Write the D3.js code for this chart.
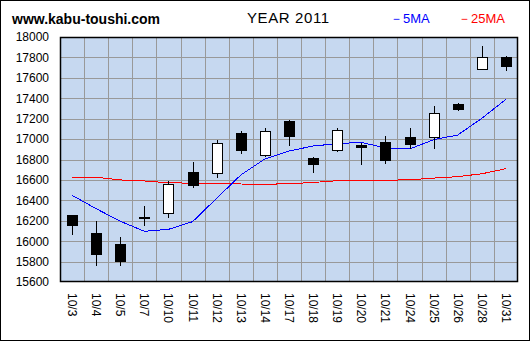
<!DOCTYPE html>
<html>
<head>
<meta charset="utf-8">
<script src="https://cdn.jsdelivr.net/npm/d3@7"></script>
<style>
  html, body { margin: 0; padding: 0; background: #fff; }
  svg { display: block; font-family: Arial, "Liberation Sans", sans-serif; }
</style>
</head>
<body>
<svg id="chart" width="530" height="341"></svg>
<script>
// Daily candles, October 2011
const dates = ["10/3","10/4","10/5","10/7","10/10","10/11","10/12","10/13","10/14","10/17",
               "10/18","10/19","10/20","10/21","10/24","10/25","10/26","10/28","10/31"];
const open  = [16256,16080,15969,16236,16273,16668,16665,17050,16841,17177,
               16812,16886,16935,16971,17011,17017,17334,17684,17801];
const high  = [16256,16198,16041,16345,16592,16778,16988,17076,17106,17187,
               16822,17109,16965,17030,17109,17324,17351,17909,17814];
const low   = [16063,15754,15760,16151,16230,16518,16616,16857,16824,16935,
               16671,16876,16749,16756,16903,16906,17278,17684,17670];
const close = [16151,15867,15799,16232,16557,16543,16959,16886,17076,17023,
               16749,17086,16922,16788,16945,17253,17288,17801,17709];
// Moving averages
const ma5  = [16449,16318,16195,16097,16116,16191,16420,16648,16805,16883,
              16932,16955,16968,16913,16903,16994,17040,17203,17390];
const ma25 = [16626,16626,16600,16590,16572,16568,16566,16560,16558,16562,
              16575,16592,16598,16598,16600,16618,16632,16660,16710];
const yTicks = [15600,15800,16000,16200,16400,16600,16800,17000,17200,17400,17600,17800,18000];

const svg = d3.select("#chart");
const W = 530, H = 341;
const plot = { left: 60, right: 518, top: 37, bottom: 282 };

const x = d3.scaleBand().domain(dates).range([plot.left, plot.right]).padding(0);
const y = d3.scaleLinear().domain([15600, 18000]).range([plot.bottom, plot.top]);
const cx = d => x(d) + x.bandwidth() / 2;

// outer frame
svg.append("rect").attr("x", 0.5).attr("y", 0.5).attr("width", W - 1).attr("height", H - 1)
  .attr("fill", "#fff").attr("stroke", "#000").attr("stroke-width", 1);

// plot background
svg.append("rect")
  .attr("x", plot.left).attr("y", plot.top)
  .attr("width", plot.right - plot.left).attr("height", plot.bottom - plot.top)
  .attr("fill", "#c6d8f0");

// grid
const grid = svg.append("g").attr("stroke", "#999").attr("stroke-width", 1).attr("shape-rendering", "crispEdges");
grid.selectAll("line.h").data(yTicks.slice(1, -1)).join("line")
  .attr("x1", plot.left).attr("x2", plot.right)
  .attr("y1", d => Math.round(y(d)) + 0.5).attr("y2", d => Math.round(y(d)) + 0.5);
grid.selectAll("line.v").data(dates.slice(1)).join("line")
  .attr("x1", d => Math.round(x(d)) + 0.5).attr("x2", d => Math.round(x(d)) + 0.5)
  .attr("y1", plot.top).attr("y2", plot.bottom);

// moving average lines
const line = d3.line().x((d, i) => cx(dates[i])).y(d => y(d));
svg.append("path").datum(ma25).attr("d", line)
  .attr("fill", "none").attr("stroke", "#ff0000").attr("stroke-width", 1).attr("shape-rendering", "crispEdges");
svg.append("path").datum(ma5).attr("d", line)
  .attr("fill", "none").attr("stroke", "#0000ff").attr("stroke-width", 1).attr("shape-rendering", "crispEdges");

// candles
const candles = svg.append("g").attr("shape-rendering", "crispEdges");
const bodyW = 10;
dates.forEach((d, i) => {
  const c = Math.round(cx(d)) + 0.5;
  candles.append("line")
    .attr("x1", c).attr("x2", c)
    .attr("y1", y(high[i])).attr("y2", y(low[i]))
    .attr("stroke", "#000").attr("stroke-width", 1);
  const top = y(Math.max(open[i], close[i]));
  const bot = y(Math.min(open[i], close[i]));
  const up = close[i] >= open[i];
  candles.append("rect")
    .attr("x", c - bodyW / 2).attr("y", top)
    .attr("width", bodyW).attr("height", Math.max(1, bot - top))
    .attr("fill", up ? "#fff" : "#000")
    .attr("stroke", "#000").attr("stroke-width", 1);
});

// plot border
svg.append("rect")
  .attr("x", plot.left + 0.5).attr("y", plot.top + 0.5)
  .attr("width", plot.right - plot.left - 1).attr("height", plot.bottom - plot.top - 1)
  .attr("fill", "none").attr("stroke", "#000").attr("stroke-width", 1.5);

// y axis labels
const yAxis = svg.append("g").attr("transform", `translate(${plot.left},0)`)
  .call(d3.axisLeft(y).tickValues(yTicks).tickSize(0).tickPadding(11).tickFormat(d3.format("d")));
yAxis.select(".domain").remove();
yAxis.selectAll("text").attr("font-size", 12).attr("fill", "#000")
  .attr("font-family", "Arial, 'Liberation Sans', sans-serif");

// x axis labels, rotated
const xAxis = svg.append("g").attr("transform", `translate(0,${plot.bottom})`)
  .call(d3.axisBottom(x).tickSize(0).tickPadding(0));
xAxis.select(".domain").remove();
xAxis.selectAll("text")
  .attr("font-size", 12).attr("fill", "#000")
  .attr("font-family", "Arial, 'Liberation Sans', sans-serif")
  .attr("text-anchor", "start")
  .attr("dy", null).attr("y", 0)
  .attr("dominant-baseline", "central")
  .attr("transform", "translate(0,11) rotate(90)");

// header
svg.append("text").attr("x", 12).attr("y", 24)
  .attr("font-size", 14).attr("font-weight", "bold").attr("fill", "#000")
  .text("www.kabu-toushi.com");
svg.append("text").attr("x", 247).attr("y", 23)
  .attr("font-size", 15).attr("fill", "#000").attr("letter-spacing", 0.6)
  .text("YEAR 2011");
svg.append("text").attr("x", 390).attr("y", 23)
  .attr("font-size", 13).attr("fill", "#0000ff")
  .text("－5MA");
svg.append("text").attr("x", 458).attr("y", 23)
  .attr("font-size", 13).attr("fill", "#ff0000")
  .text("－25MA");
</script>
</body>
</html>
